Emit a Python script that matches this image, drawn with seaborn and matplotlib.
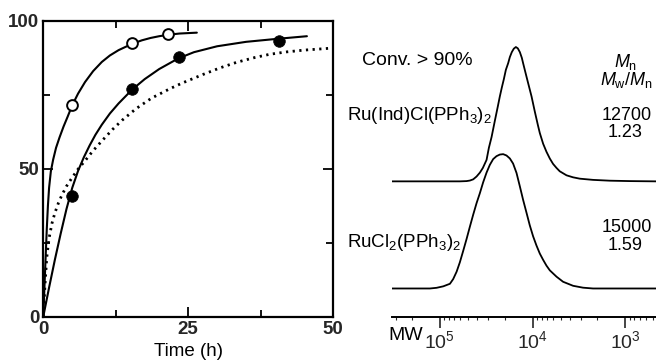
import numpy as np
import seaborn as sns
import matplotlib.pyplot as plt

# ---- conversion vs time (left) ----
open_time = [5.0, 15.3, 21.5]
open_conv = [71.5, 92.3, 95.4]
filled_time = [4.9, 15.3, 23.4, 40.6]
filled_conv = [40.7, 76.8, 87.7, 93.2]

open_fit_time = [0, 0.2, 0.4, 0.6, 0.8, 1.0, 1.3, 1.7, 2.2, 2.8, 3.5, 4.2, 5.0, 6.0, 7.2,
                 8.6, 10.1, 11.5, 13.0, 15.3, 17.0, 18.5, 20.0, 21.6, 23.5, 26.5]
open_fit_conv = [0, 10, 20, 29.5, 37.5, 43.5, 49, 53, 57, 60.5, 64.2, 67.5, 71.4, 75.3, 79.2,
                 82.9, 86.0, 88.2, 90.0, 92.1, 93.3, 94.1, 94.7, 95.2, 95.6, 95.9]
filled_fit_time = [0, 1, 2, 3, 4, 5, 6, 7, 8, 9, 10.1, 11.5, 13, 15.3, 17.5, 20, 23.3,
                   26, 30, 35, 40.3, 45.5]
filled_fit_conv = [0, 9.8, 19.2, 28, 36.3, 43.5, 49.2, 53.8, 57.8, 61.4, 64.8, 68.6, 72.0,
                   76.6, 80.2, 83.6, 87.2, 89.3, 91.3, 92.8, 93.8, 94.7]
dotted_time = [0, 0.3, 0.6, 1.0, 1.5, 2.0, 2.6, 3.2, 4.0, 5.0, 6.0, 7.2, 8.5, 10.1, 12, 13.6,
               16, 18.7, 21.9, 24, 27.6, 30.5, 33.4, 36.5, 39.1, 42, 45, 50]
dotted_conv = [0, 11, 20, 26.5, 31.5, 35, 38.3, 41, 44, 47, 49.8, 52.6, 55.8, 59.3, 63.3, 66.3,
               70.2, 73.8, 77.0, 78.9, 81.8, 84, 85.9, 87.5, 88.6, 89.4, 90.0, 90.7]

# ---- GPC traces (right), log10(MW) vs normalized RI signal ----
upper_logmw = [5.52, 4.785, 4.712, 4.677, 4.641, 4.605, 4.569, 4.537, 4.497, 4.472, 4.443,
               4.408, 4.375, 4.354, 4.332, 4.311, 4.289, 4.264, 4.246, 4.225, 4.203, 4.181,
               4.160, 4.138, 4.117, 4.103, 4.074, 4.052, 4.012, 3.977, 3.944, 3.923, 3.887,
               3.851, 3.815, 3.780, 3.743, 3.708, 3.635, 3.564, 3.492, 3.349, 3.169, 2.954, 2.67]
upper_signal = [0, 0, 0.002, 0.006, 0.015, 0.036, 0.065, 0.10, 0.16, 0.25, 0.33,
                0.45, 0.56, 0.632, 0.70, 0.76, 0.83, 0.88, 0.925, 0.962, 0.988, 1.0,
                0.99, 0.962, 0.92, 0.88, 0.80, 0.74, 0.632, 0.52, 0.42, 0.36, 0.28,
                0.22, 0.17, 0.13, 0.10, 0.075, 0.045, 0.03, 0.02, 0.011, 0.005, 0.002, 0]
lower_logmw = [5.52, 5.108, 5.036, 4.964, 4.892, 4.857, 4.820, 4.785, 4.749, 4.712, 4.677,
               4.641, 4.605, 4.569, 4.534, 4.497, 4.462, 4.426, 4.390, 4.354, 4.318, 4.282,
               4.246, 4.211, 4.174, 4.138, 4.103, 4.066, 4.031, 3.995, 3.959, 3.923, 3.887,
               3.851, 3.815, 3.743, 3.672, 3.564, 3.457, 3.349, 2.67]
lower_signal = [0, 0, 0.005, 0.016, 0.035, 0.07, 0.125, 0.195, 0.28, 0.37, 0.46,
                0.55, 0.635, 0.71, 0.79, 0.863, 0.92, 0.963, 0.985, 0.997, 1.0, 0.99,
                0.968, 0.93, 0.86, 0.76, 0.66, 0.563, 0.47, 0.388, 0.32, 0.26, 0.213,
                0.17, 0.135, 0.088, 0.05, 0.02, 0.006, 0, 0]
mw_ticks = [1e5, 1e4, 1e3]
mw_labels = ["10$^5$", "10$^4$", "10$^3$"]

sns.set_theme(style="ticks")
plt.rcParams["font.family"] = ["Liberation Sans", "DejaVu Sans"]
plt.rcParams["mathtext.fontset"] = "custom"
plt.rcParams["mathtext.rm"] = "Liberation Sans"
plt.rcParams["mathtext.it"] = "Liberation Sans:italic"
plt.rcParams["mathtext.bf"] = "Liberation Sans:bold"
plt.rcParams["mathtext.default"] = "regular"

fig = plt.figure(figsize=(6.56, 3.6), dpi=100)
ax = fig.add_axes([0.066, 0.1208, 0.4416, 0.8222])
ax2 = fig.add_axes([0.5971, 0.1203, 0.4029, 0.8222])

lw = 1.5
sns.lineplot(x=open_fit_time, y=open_fit_conv, ax=ax, color="black", lw=lw, sort=False, estimator=None)
sns.lineplot(x=filled_fit_time, y=filled_fit_conv, ax=ax, color="black", lw=lw, sort=False, estimator=None)
sns.lineplot(x=dotted_time, y=dotted_conv, ax=ax, color="black", lw=2.0, sort=False, estimator=None,
             linestyle=(0, (0.8, 1.6)))
sns.scatterplot(x=open_time, y=open_conv, ax=ax, s=60, facecolor="white", edgecolor="black",
                linewidth=1.4, zorder=5)
sns.scatterplot(x=filled_time, y=filled_conv, ax=ax, s=70, color="black", edgecolor="black",
                linewidth=0.5, zorder=5)

ax.set_xlim(0, 50)
ax.set_ylim(0, 100)
ax.set_xticks([0, 25, 50])
ax.set_xticks([12.5, 37.5], minor=True)
ax.set_yticks([0, 50, 100])
ax.set_yticks([25, 75], minor=True)
ax.tick_params(which="both", direction="in", top=True, right=True, width=1.3, color="black")
ax.tick_params(which="major", length=7, labelsize=13.5, pad=3)
ax.tick_params(which="minor", length=5)
for lab in ax.get_xticklabels() + ax.get_yticklabels():
    lab.set_fontweight("bold")
for sp in ax.spines.values():
    sp.set_linewidth(1.6)
    sp.set_color("black")
ax.set_xlabel("Time (h)", fontsize=13.5, labelpad=4, color="black")
ax.set_ylabel("")

# right panel: GPC curves, stacked
ax2.set_xscale("log")
upper_off = 1.0075
lower_off = 0.21
sns.lineplot(x=10 ** np.array(upper_logmw), y=np.array(upper_signal) + upper_off, ax=ax2,
             color="black", lw=1.3, sort=False, estimator=None)
sns.lineplot(x=10 ** np.array(lower_logmw), y=np.array(lower_signal) + lower_off, ax=ax2,
             color="black", lw=1.3, sort=False, estimator=None)
ax2.set_xlim(10 ** 5.52, 10 ** 2.67)
ax2.set_ylim(0, 2.2035)
ax2.set_xticks(mw_ticks, labels=mw_labels)
ax2.tick_params(axis="x", which="major", direction="out", length=8, width=1.2, labelsize=14, pad=2)
ax2.tick_params(axis="x", which="minor", direction="out", length=2.5, width=0.8)
ax2.set_yticks([])
for s in ["left", "top", "right"]:
    ax2.spines[s].set_visible(False)
ax2.spines["bottom"].set_linewidth(1.4)
ax2.spines["bottom"].set_color("black")
ax2.set_xlabel("")
ax2.set_ylabel("")

W, H = 656, 360
def ftext(x, y, s, **kw):
    fig.text(x / W, 1 - y / H, s, color="black", va="baseline", **kw)

ftext(388, 339.5, "MW", fontsize=14)
ftext(361.7, 65, "Conv. > 90%", fontsize=14)
ftext(346.7, 120.5, "Ru(Ind)Cl(PPh$_3$)$_2$", fontsize=13.5)
ftext(346.7, 247, "RuCl$_2$(PPh$_3$)$_2$", fontsize=13.5)
ftext(626, 66.7, r"$\mathit{M}_\mathrm{n}$", fontsize=13, ha="center")
ftext(626, 85, r"$\mathit{M}_\mathrm{w}/\mathit{M}_\mathrm{n}$", fontsize=13, ha="center")
ftext(626.5, 120, "12700", fontsize=13, ha="center")
ftext(625, 136.7, "1.23", fontsize=13, ha="center")
ftext(626.5, 231.7, "15000", fontsize=13, ha="center")
ftext(625.5, 250, "1.59", fontsize=13, ha="center")

fig.savefig("out.png", dpi=100)
